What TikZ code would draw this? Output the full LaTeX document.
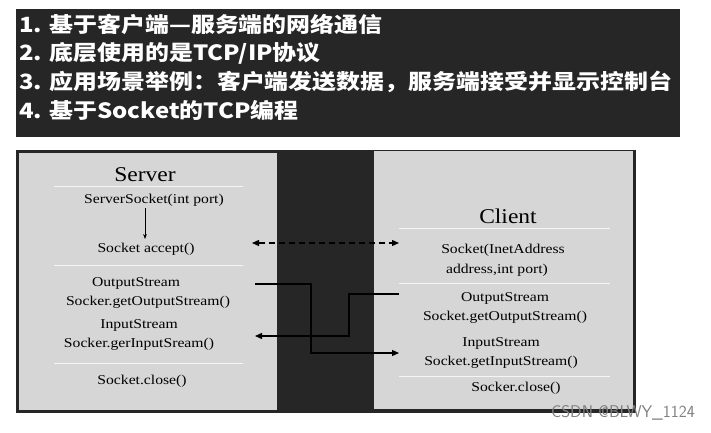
\documentclass[tikz,border=0pt]{standalone}
\usepackage{fontspec}
\setmainfont{Liberation Serif}
\newfontfamily\cjk{Noto Sans CJK SC}
\usetikzlibrary{arrows.meta}
\definecolor{panel}{HTML}{262626}
\definecolor{boxgray}{HTML}{D6D6D6}

\begin{document}
\begin{tikzpicture}[x=1pt,y=-1pt,
  head/.style={font=\cjk\bfseries\fontsize{21}{21}\selectfont,text=white,anchor=west,inner sep=0pt,xscale=1.14},
  lbl/.style={font=\fontsize{13.5}{14}\selectfont,inner sep=0pt,xscale=1.16},
  title/.style={font=\fontsize{21}{22}\selectfont,inner sep=0pt,xscale=1.12},
  sep/.style={draw=white!92!gray,line width=1pt},
  flow/.style={draw=black,line width=1.2pt,-{Triangle[length=7pt,width=6pt]}}]
  \useasboundingbox (0,0) rectangle (711,433);
  % top banner
  \fill[panel] (16,9) rectangle (680,137);
  \node[head] (h1) at (19,24) {1. 基于客户端—服务端的网络通信};
  \node[head] (h2) at (19,53) {2. 底层使用的是TCP/IP协议};
  \node[head] (h3) at (19,82) {3. 应用场景举例：客户端发送数据，服务端接受并显示控制台};
  \node[head] (h4) at (19,110) {4. 基于Socket的TCP编程};
  % lower panel
  \fill[panel] (16,150) rectangle (636,413);
  \fill[boxgray] (19,153) rectangle (277,410);
  \fill[boxgray] (374,151) rectangle (633,409);
  % server side
  \node[title] (server) at (145,175) {Server};
  \draw[sep] (54,186) -- (243,186);
  \node[lbl] (ssock) at (154,200) {ServerSocket(int port)};
  \node[lbl] (accept) at (146,249) {Socket accept()};
  \draw[sep] (54,265) -- (243,265);
  \node[lbl] (sout) at (136,283) {OutputStream};
  \node[lbl] (sgetout) at (148,302) {Socker.getOutputStream()};
  \node[lbl] (sin) at (139,325) {InputStream};
  \node[lbl] (sgetin) at (139,344) {Socker.gerInputSream()};
  \draw[sep] (54,363) -- (243,363);
  \node[lbl] (sclose) at (142,381) {Socket.close()};
  % client side
  \node[title] (client) at (508,216) {Client};
  \draw[sep] (399,228) -- (610,228);
  \node[lbl] (csock) at (503,250) {Socket(InetAddress};
  \node[lbl] (caddr) at (497,270) {address,int port)};
  \draw[sep] (399,283) -- (610,283);
  \node[lbl] (cout) at (505,298) {OutputStream};
  \node[lbl] (cgetout) at (505,317) {Socket.getOutputStream()};
  \node[lbl] (cin) at (501,343) {InputStream};
  \node[lbl] (cgetin) at (501,362) {Socket.getInputStream()};
  \draw[sep] (399,376) -- (610,376);
  \node[lbl] (cclose) at (516,388) {Socker.close()};
  % connectors
  \coordinate (acc) at (252,243);
  \coordinate (con) at (399,243);
  \coordinate (outs) at (255,284);
  \coordinate (ins) at (399,353);
  \coordinate (outc) at (399,294);
  \coordinate (inc) at (255,336);
  \coordinate (ta) at (145,208);
  \coordinate (tb) at (145,239);
  \draw[-{Stealth[length=5pt]},line width=0.6pt] (ta) -- (tb);
  \draw[flow,dash pattern=on 6pt off 4pt,{Triangle[length=7pt,width=6pt]}-{Triangle[length=7pt,width=6pt]}] (acc) -- (con);
  \draw[flow] (outs) -- (311,284) |- (ins);
  \draw[flow] (outc) -- (349,294) |- (inc);
  \node[font=\fontsize{17}{17}\selectfont\sffamily,text=gray,anchor=east,inner sep=0pt] (mark) at (695,413) {CSDN @BLWY\_1124};
\end{tikzpicture}
\end{document}
